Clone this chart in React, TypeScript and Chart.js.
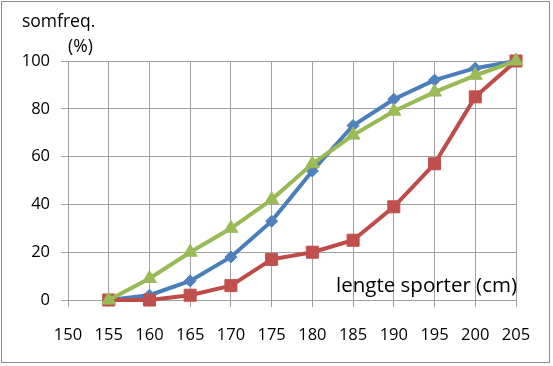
import { useEffect, useRef } from "react";
import { Chart, registerables } from "chart.js";

Chart.register(...registerables);

// ---- data ----
const heights = [155, 160, 165, 170, 175, 180, 185, 190, 195, 200, 205];
const blueValues = [0, 2, 8, 18, 33, 54, 73, 84, 92, 97, 100];
const redValues = [0, 0, 2, 6, 17, 20, 25, 39, 57, 85, 100];
const greenValues = [0, 9, 20, 30, 42, 57, 69, 79, 87, 94, 100];
const xTickValues = [150, 155, 160, 165, 170, 175, 180, 185, 190, 195, 200, 205];
const yTickValues = [0, 20, 40, 60, 80, 100];
const yTitleLines = ["somfreq.", "(%)"];
const xTitle = "lengte sporter (cm)";

const FONT = "'Open Sans', 'DejaVu Sans', sans-serif";
const GRID = "#A0A0A0";

const toPoints = (vals: number[]) => heights.map((h, i) => ({ x: h, y: vals[i] }));

const framePlugin = {
  id: "frame",
  beforeDraw(chart: any) {
    const ctx = chart.ctx;
    ctx.save();
    ctx.fillStyle = "#ffffff";
    ctx.fillRect(0, 0, chart.width, chart.height);
    ctx.strokeStyle = "#8C8C8C";
    ctx.lineWidth = 1;
    ctx.strokeRect(1.5, 1.5, 548, 361);
    ctx.restore();
  },
  afterDraw(chart: any) {
    const ctx = chart.ctx;
    const area = chart.chartArea;
    ctx.save();
    ctx.fillStyle = "#000000";
    ctx.font = `17.5px ${FONT}`;
    ctx.textBaseline = "alphabetic";
    ctx.textAlign = "left";
    ctx.fillText(yTitleLines[0], 22, 27);
    ctx.fillText(yTitleLines[1], 68, 52);
    ctx.font = `20.5px ${FONT}`;
    ctx.textAlign = "right";
    ctx.fillText(xTitle, area.right + 1, area.bottom - 8);
    ctx.restore();
  },
};

export default function App() {
  const ref = useRef<HTMLCanvasElement | null>(null);

  useEffect(() => {
    if (!ref.current) return;
    const chart = new Chart(ref.current, {
      type: "line",
      data: {
        datasets: [
          {
            label: "blauw",
            data: toPoints(blueValues),
            borderColor: "#4A7EBB",
            backgroundColor: "#4F81BD",
            pointBorderColor: "#4F81BD",
            borderWidth: 4,
            pointStyle: "rectRot",
            pointRadius: 6,
            pointBorderWidth: 1,
            order: 3,
            clip: false as any,
          },
          {
            label: "rood",
            data: toPoints(redValues),
            borderColor: "#BE4B48",
            backgroundColor: "#C0504D",
            pointBorderColor: "#C0504D",
            borderWidth: 4,
            pointStyle: "rect",
            pointRadius: 8.5,
            pointBorderWidth: 1,
            order: 2,
            clip: false as any,
          },
          {
            label: "groen",
            data: toPoints(greenValues),
            borderColor: "#98B954",
            backgroundColor: "#9BBB59",
            pointBorderColor: "#9BBB59",
            borderWidth: 4,
            pointStyle: "triangle",
            pointRadius: 8,
            pointBorderWidth: 1,
            order: 1,
            clip: false as any,
          },
        ],
      },
      options: {
        responsive: false,
        animation: false,
        layout: { padding: { left: 0, top: 61, right: 37, bottom: 16 } },
        plugins: {
          legend: { display: false },
          tooltip: { enabled: false },
          title: { display: false },
        },
        scales: {
          x: {
            type: "linear",
            min: 150,
            max: 205,
            afterBuildTicks: (s: any) => {
              s.ticks = xTickValues.map((v) => ({ value: v }));
            },
            afterFit: (s: any) => {
              s.height = 50;
            },
            ticks: {
              autoSkip: false,
              maxRotation: 0,
              color: "#000000",
              padding: 18,
              font: { family: FONT, size: 16.5 },
            },
            grid: { color: GRID, lineWidth: 1, tickLength: 7 },
            border: { color: GRID, width: 1 },
          },
          y: {
            type: "linear",
            min: 0,
            max: 100,
            afterBuildTicks: (s: any) => {
              s.ticks = yTickValues.map((v) => ({ value: v }));
            },
            afterFit: (s: any) => {
              s.width = 68;
            },
            ticks: {
              color: "#000000",
              padding: 11,
              font: { family: FONT, size: 16.5 },
            },
            grid: { color: GRID, lineWidth: 1, tickLength: 7 },
            border: { color: GRID, width: 1 },
          },
        },
      },
      plugins: [framePlugin],
    });
    return () => chart.destroy();
  }, []);

  return (
    <div style={{ position: "absolute", left: 0, top: 0, width: 553, height: 366 }}>
      <canvas ref={ref} width={553} height={366} style={{ display: "block" }} />
    </div>
  );
}
